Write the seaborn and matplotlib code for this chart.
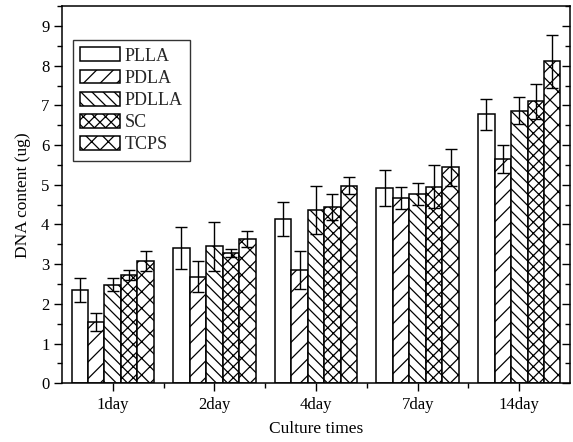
import matplotlib
matplotlib.use("Agg")
import matplotlib.pyplot as plt
from matplotlib.ticker import MultipleLocator, FixedLocator
import seaborn as sns
import pandas as pd

days = ["1day", "2day", "4day", "7day", "14day"]
materials = ["PLLA", "PDLA", "PDLLA", "SC", "TCPS"]

plla = [2.34, 3.41, 4.13, 4.92, 6.78]
pdla = [1.55, 2.68, 2.86, 4.67, 5.65]
pdlla = [2.48, 3.45, 4.37, 4.77, 6.87]
sc = [2.73, 3.28, 4.43, 4.95, 7.10]
tcps = [3.08, 3.64, 4.98, 5.44, 8.11]

plla_err = [0.30, 0.52, 0.43, 0.46, 0.39]
pdla_err = [0.23, 0.39, 0.48, 0.28, 0.35]
pdlla_err = [0.16, 0.61, 0.60, 0.27, 0.34]
sc_err = [0.13, 0.11, 0.33, 0.54, 0.45]
tcps_err = [0.26, 0.20, 0.21, 0.46, 0.67]

values = [plla, pdla, pdlla, sc, tcps]
errors = [plla_err, pdla_err, pdlla_err, sc_err, tcps_err]
hatches = ["", "//", "\\\\\\", "xxx", "xx"]

rows = []
for m, vals in zip(materials, values):
    for d, v in zip(days, vals):
        rows.append({"day": d, "material": m, "dna": v})
df = pd.DataFrame(rows)

sns.set_theme(style="ticks")
plt.rcParams["font.family"] = ["Liberation Serif", "DejaVu Serif"]
plt.rcParams["hatch.linewidth"] = 0.9
plt.rcParams["hatch.color"] = "black"

fig = plt.figure(figsize=(5.73, 4.42), dpi=100)
ax = fig.add_axes([0.108, 0.133, 0.887, 0.853])

sns.barplot(data=df, x="day", y="dna", hue="material", order=days,
            hue_order=materials, width=0.81, errorbar=None,
            palette=["white"] * 5, edgecolor="black",
            linewidth=1.1, saturation=1, ax=ax)

for cont, hatch, errs in zip(ax.containers, hatches, errors):
    xs, ys = [], []
    for bar in cont:
        bar.set_hatch(hatch)
        bar.set_facecolor("white")
        bar.set_edgecolor("black")
        xs.append(bar.get_x() + bar.get_width() / 2)
        ys.append(bar.get_height())
    ax.errorbar(xs, ys, yerr=errs, fmt="none", ecolor="black",
                elinewidth=1.0, capsize=4.5, capthick=1.0, zorder=5)

ax.set_xlim(-0.5, 4.5)
ax.set_ylim(0, 9.5)
ax.yaxis.set_major_locator(MultipleLocator(1))
ax.yaxis.set_minor_locator(MultipleLocator(0.5))
ax.xaxis.set_minor_locator(FixedLocator([0.5, 1.5, 2.5, 3.5]))

for s in ax.spines.values():
    s.set_visible(True)
    s.set_color("black")
    s.set_linewidth(1.1)

ax.tick_params(axis="both", which="major", direction="out", length=6,
               width=1, labelsize=12, color="black", labelcolor="black")
ax.tick_params(axis="both", which="minor", direction="out", length=3.5,
               width=1, color="black")
ax.tick_params(axis="x", which="both", top=False)
ax.tick_params(axis="y", which="both", right=False, pad=3)
ax.tick_params(axis="x", which="major", pad=4)

# inward ticks on the right spine
ax2 = ax.twinx()
ax2.set_ylim(ax.get_ylim())
ax2.yaxis.set_major_locator(MultipleLocator(1))
ax2.yaxis.set_minor_locator(MultipleLocator(0.5))
ax2.tick_params(axis="y", which="major", direction="in", length=6, width=1,
                labelright=False, color="black")
ax2.tick_params(axis="y", which="minor", direction="in", length=3.5, width=1,
                color="black")
for s in ax2.spines.values():
    s.set_visible(False)

ax.set_xlabel("Culture times", fontsize=12.5, color="black", labelpad=6)
ax.set_ylabel("DNA content (ug)", fontsize=12.5, color="black", labelpad=7)

leg = ax.legend(loc="upper left", bbox_to_anchor=(0.022, 0.91), fontsize=13,
                frameon=True, fancybox=False, edgecolor="black",
                handlelength=2.2, handleheight=0.8, handletextpad=0.25,
                labelspacing=0.28, borderpad=0.4, borderaxespad=0)
leg.get_frame().set_linewidth(1.0)
for h, hatch in zip(leg.legend_handles, hatches):
    h.set_hatch(hatch)
    h.set_facecolor("white")
    h.set_edgecolor("black")

fig.savefig("out.png", dpi=100)
